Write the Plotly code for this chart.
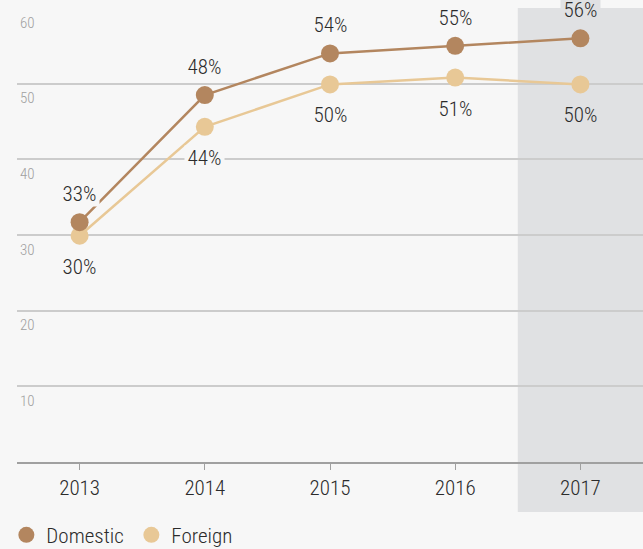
import plotly.graph_objects as go

years = ["2013", "2014", "2015", "2016", "2017"]
domestic = [31.7, 48.5, 54.0, 55.0, 56.0]
foreign = [29.9, 44.3, 49.9, 50.8, 49.9]
domestic_labels = ["33%", "48%", "54%", "55%", "56%"]
foreign_labels = ["30%", "44%", "50%", "51%", "50%"]
y_ticks = [10, 20, 30, 40, 50, 60]
highlight_year = "2017"

DOM = "#b3865f"
FOR = "#e8c896"
BG = "#f7f7f7"
SHADE = "#e0e1e3"
TXT = "#2b2b2b"
FONT = "Roboto, sans-serif"
LBL = 21

fig = go.Figure()
fig.add_trace(go.Scatter(x=years, y=foreign, mode="lines+markers", name="Foreign",
                         line=dict(color=FOR, width=2.5), marker=dict(size=18, color=FOR),
                         showlegend=False, cliponaxis=False))
fig.add_trace(go.Scatter(x=years, y=domestic, mode="lines+markers", name="Domestic",
                         line=dict(color=DOM, width=2.5), marker=dict(size=18, color=DOM),
                         showlegend=False, cliponaxis=False))
fig.add_trace(go.Scatter(x=[None], y=[None], mode="markers", name="Domestic",
                         marker=dict(size=18, color=DOM)))
fig.add_trace(go.Scatter(x=[None], y=[None], mode="markers", name="Foreign",
                         marker=dict(size=18, color=FOR)))

hi = years.index(highlight_year)
fig.add_shape(type="rect", xref="x", yref="paper", x0=hi - 0.5, x1=hi + 0.5,
              y0=-0.11, y1=1, fillcolor=SHADE, line=dict(width=0), layer="below")

annotations = []
for i, yr in enumerate(years):
    bg = SHADE if yr == highlight_year else BG
    annotations.append(dict(x=i, y=domestic[i], xref="x", yref="y", text=domestic_labels[i],
                            showarrow=False, yshift=28, bgcolor=bg, borderpad=0,
                            font=dict(family=FONT, size=LBL, color=TXT)))
    annotations.append(dict(x=i, y=foreign[i], xref="x", yref="y", text=foreign_labels[i],
                            showarrow=False, yshift=-31, bgcolor=bg, borderpad=0,
                            font=dict(family=FONT, size=LBL, color=TXT)))

fig.update_layout(
    width=643, height=549,
    margin=dict(l=17, r=0, t=8, b=87, autoexpand=False),
    paper_bgcolor=BG, plot_bgcolor=BG,
    font=dict(family=FONT, size=LBL, color=TXT),
    legend=dict(orientation="h", x=-0.017, xanchor="left", y=-0.116, yanchor="top",
                font=dict(family=FONT, size=LBL, color=TXT),
                entrywidth=80, entrywidthmode="pixels",
                bgcolor="rgba(0,0,0,0)"),
    showlegend=True,
    annotations=annotations,
)
fig.update_xaxes(type="category", range=[-0.5, 4.5], showgrid=False,
                 showline=True, linecolor="#a0a0a0", linewidth=1.5,
                 ticks="outside", ticklen=6, tickcolor="#a0a0a0", tickwidth=1,
                 tickfont=dict(family=FONT, size=LBL, color=TXT),
                 fixedrange=True)
fig.update_yaxes(range=[0, 60], tickvals=y_ticks, showgrid=True, gridcolor="#cccccc",
                 gridwidth=1.5, zeroline=False, showline=False,
                 ticklabelposition="inside bottom", ticklabelshift=4,
                 tickfont=dict(family=FONT, size=15, color="#a0a0a0"),
                 fixedrange=True)

post = (
    "document.body.style.margin='0';document.body.style.overflow='hidden';"
    "var st=document.createElement('style');"
    "st.textContent='.main-svg text{font-stretch:condensed !important;font-weight:300 !important;"
    "font-family:\"Roboto Condensed\",Roboto,sans-serif !important;}';"
    "document.head.appendChild(st);"
)
fig.write_html("out.html", post_script=post, config={"displayModeBar": False})
